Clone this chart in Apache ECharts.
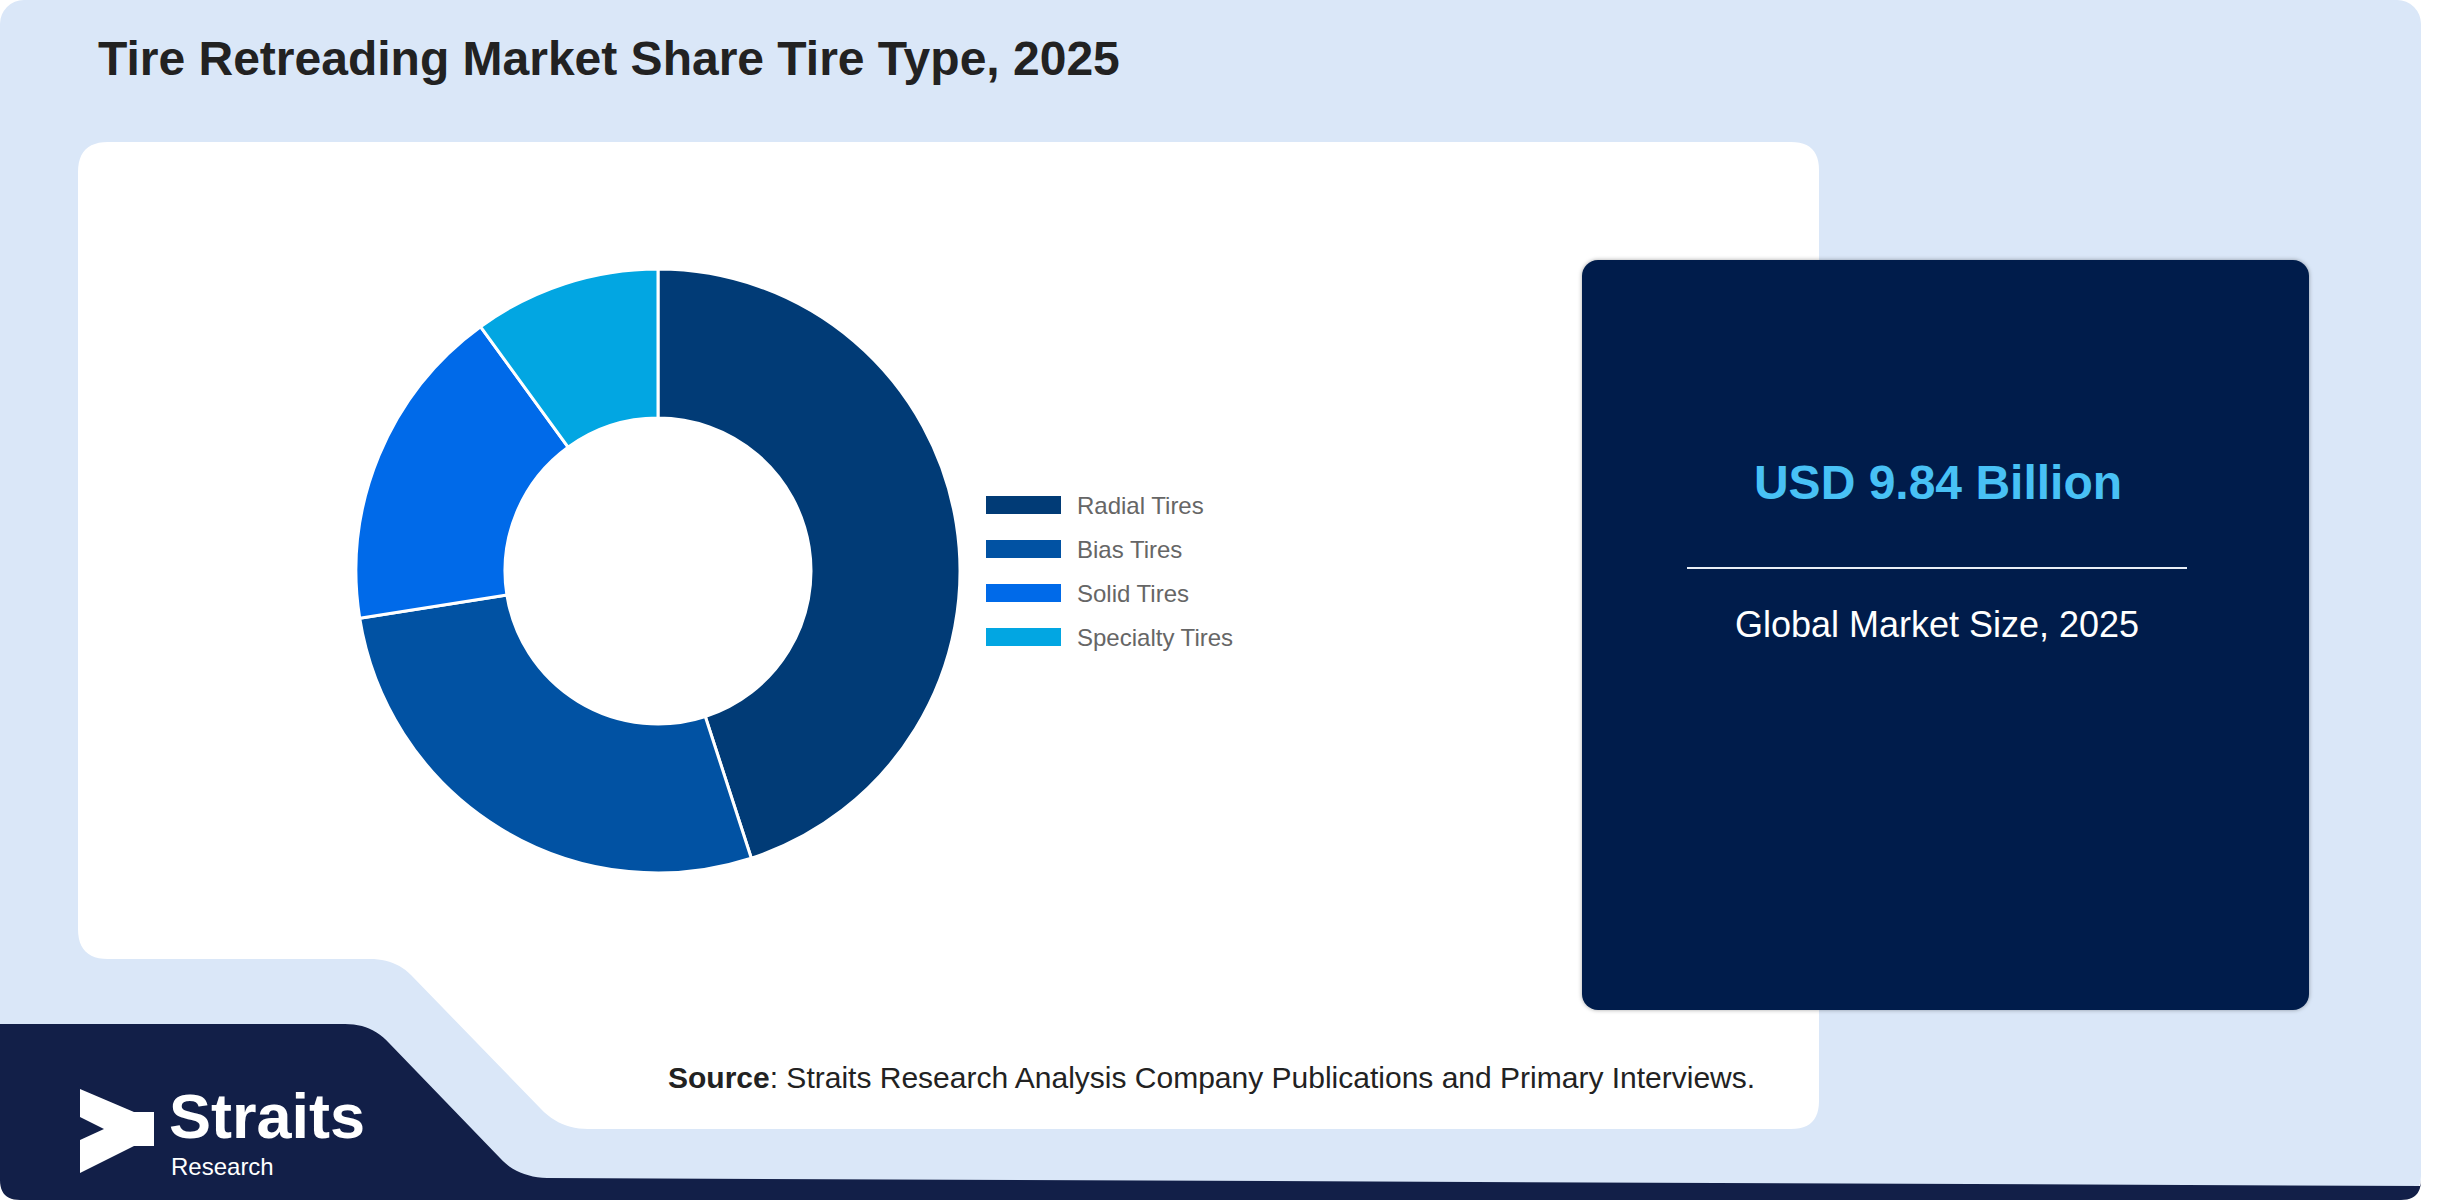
<!DOCTYPE html>
<html>
<head>
<meta charset="utf-8">
<script src="https://cdn.jsdelivr.net/npm/echarts@6/dist/echarts.min.js"></script>
<style>
html,body{margin:0;padding:0;background:#ffffff;}
#chart{width:2452px;height:1200px;}
</style>
</head>
<body>
<div id="chart"></div>
<script>
const titleText = 'Tire Retreading Market Share Tire Type, 2025';
const categories = ['Radial Tires', 'Bias Tires', 'Solid Tires', 'Specialty Tires'];
const shares = [45, 27.5, 17.5, 10];
const sliceColors = ['#013b76', '#0152a3', '#006ae9', '#02a6e2'];
const marketValue = 'USD 9.84 Billion';
const marketLabel = 'Global Market Size, 2025';
const sourceLabel = 'Source';
const sourceText = ': Straits Research Analysis Company Publications and Primary Interviews.';
const logoName = 'Straits';
const logoSub = 'Research';

// turn a simple "M/L/Q/Z" outline into polygon points (decoration shapes only)
function outline(d) {
  const t = d.trim().split(/\s+/);
  const pts = [];
  let i = 0, cur = [0, 0];
  while (i < t.length) {
    const c = t[i++];
    if (c === 'M' || c === 'L') {
      cur = [+t[i], +t[i + 1]]; i += 2; pts.push(cur);
    } else if (c === 'Q') {
      const cx = +t[i], cy = +t[i + 1], x = +t[i + 2], y = +t[i + 3]; i += 4;
      for (let k = 1; k <= 12; k++) {
        const s = k / 12, u = 1 - s;
        pts.push([u * u * cur[0] + 2 * u * s * cx + s * s * x, u * u * cur[1] + 2 * u * s * cy + s * s * y]);
      }
      cur = [x, y];
    }
  }
  return pts;
}

const chart = echarts.init(document.getElementById('chart'), null, {renderer: 'svg', width: 2452, height: 1200});

const pieData = categories.map((c, i) => ({name: c, value: shares[i], itemStyle: {color: sliceColors[i]}}));

chart.setOption({
  animation: false,
  backgroundColor: '#ffffff',
  graphic: [
    { type: 'rect', z: 0, silent: true,
      shape: { x: 0, y: 0, width: 2421, height: 1200, r: 24 },
      style: { fill: '#dae7f8' } },
    { type: 'polygon', z: 0, silent: true,
      shape: { points: outline('M 108 142 L 1791 142 Q 1819 142 1819 170 L 1819 1101 Q 1819 1129 1791 1129 L 588 1129 Q 560 1129 541 1109 L 411 975 Q 395 959 370 959 L 108 959 Q 78 959 78 929 L 78 172 Q 78 142 108 142 Z') },
      style: { fill: '#ffffff' } },
    { type: 'polygon', z: 0, silent: true,
      shape: { points: outline('M 0 1024 L 345 1024 Q 372 1024 389 1043 L 500 1158 Q 517 1177 547 1178 L 2421 1186 L 2421 1180 Q 2421 1200 2401 1200 L 20 1200 Q 0 1200 0 1180 Z') },
      style: { fill: '#121f48' } },
    { type: 'rect', z: 0, silent: true,
      shape: { x: 1582, y: 260, width: 727, height: 750, r: 16 },
      style: { fill: '#001f4b', shadowBlur: 4, shadowColor: 'rgba(0,0,0,0.35)' } },
    { type: 'line', z: 1, silent: true,
      shape: { x1: 1687, y1: 568, x2: 2187, y2: 568 },
      style: { stroke: '#e8eef6', lineWidth: 2 } },
    { type: 'text', z: 1, silent: true, x: 98, y: 58,
      style: { text: titleText, fill: '#222222', fontFamily: '"Liberation Sans", Arial, sans-serif', fontWeight: 'bold', fontSize: 48, verticalAlign: 'middle', align: 'left' } },
    { type: 'text', z: 1, silent: true, x: 1938, y: 482,
      style: { text: marketValue, fill: '#48c1f5', fontFamily: '"Liberation Sans", Arial, sans-serif', fontWeight: 'bold', fontSize: 48, verticalAlign: 'middle', align: 'center' } },
    { type: 'text', z: 1, silent: true, x: 1937, y: 624,
      style: { text: marketLabel, fill: '#ffffff', fontFamily: '"Liberation Sans", Arial, sans-serif', fontSize: 36, verticalAlign: 'middle', align: 'center' } },
    { type: 'text', z: 1, silent: true, x: 668, y: 1077,
      style: { text: '{b|' + sourceLabel + '}{r|' + sourceText + '}', verticalAlign: 'middle', align: 'left',
        rich: { b: { fontFamily: '"Liberation Sans", Arial, sans-serif', fontWeight: 'bold', fontSize: 30, fill: '#222222' },
                r: { fontFamily: '"Liberation Sans", Arial, sans-serif', fontSize: 30, fill: '#222222' } } } },
    { type: 'polygon', z: 1, silent: true,
      shape: { points: [[80,1089],[134,1112],[154,1112],[154,1146],[134,1146],[80,1173],[80,1140],[104,1129],[80,1117]] },
      style: { fill: '#ffffff' } },
    { type: 'text', z: 1, silent: true, x: 169, y: 1116,
      style: { text: logoName, fill: '#ffffff', fontFamily: '"Liberation Sans", Arial, sans-serif', fontWeight: 'bold', fontSize: 63, verticalAlign: 'middle', align: 'left' } },
    { type: 'text', z: 1, silent: true, x: 171, y: 1166,
      style: { text: logoSub, fill: '#ffffff', fontFamily: '"Liberation Sans", Arial, sans-serif', fontSize: 24, verticalAlign: 'middle', align: 'left' } }
  ],
  legend: {
    orient: 'vertical',
    left: 979,
    top: 488,
    padding: 5,
    itemWidth: 77,
    itemHeight: 20,
    itemGap: 20,
    icon: 'rect',
    selectedMode: false,
    data: categories,
    textStyle: { fontSize: 24, lineHeight: 24, color: '#666666', fontFamily: '"Liberation Sans", Arial, sans-serif', padding: [0, 0, 0, 10] }
  },
  series: [{
    type: 'pie',
    z: 2,
    center: [658, 571],
    radius: [153, 302],
    startAngle: 90,
    clockwise: true,
    silent: true,
    label: { show: false },
    labelLine: { show: false },
    itemStyle: { borderColor: '#ffffff', borderWidth: 3 },
    data: pieData
  }]
});
</script>
</body>
</html>
